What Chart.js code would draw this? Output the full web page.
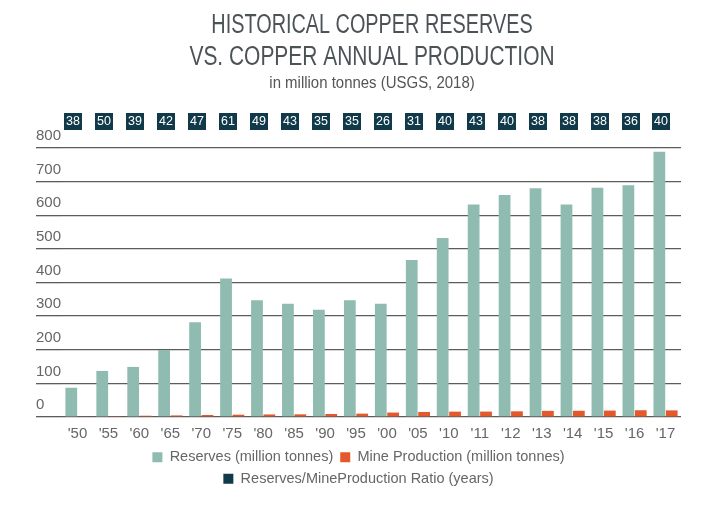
<!DOCTYPE html>
<html>
<head>
<meta charset="utf-8">
<script src="https://cdn.jsdelivr.net/npm/chart.js@4"></script>
<style>
  html, body { margin: 0; padding: 0; background: #fff; }
  #wrap { width: 720px; height: 516px; }
</style>
</head>
<body>
<div id="wrap"><canvas id="copperChart" width="720" height="516"></canvas></div>
<script>
// years and values
var years = ["'50","'55","'60","'65","'70","'75","'80","'85","'90","'95","'00","'05","'10","'11","'12","'13","'14","'15","'16","'17"];
var reserves = [87, 137, 149, 199, 282, 412, 347, 337, 319, 347, 337, 467, 532, 632, 660, 680, 632, 682, 689, 789];
var production = [2.3, 2.7, 3.8, 4.7, 6, 6.8, 7.6, 8, 9, 10, 13.2, 15, 16, 16.1, 16.9, 18.3, 18.5, 19.1, 20.1, 19.7];
var ratio = [38, 50, 39, 42, 47, 61, 49, 43, 35, 35, 26, 31, 40, 43, 40, 38, 38, 38, 36, 40];
var yTicks = [0, 100, 200, 300, 400, 500, 600, 700, 800];

var titleLines = ['HISTORICAL COPPER RESERVES', 'VS. COPPER ANNUAL PRODUCTION'];
var subtitleText = 'in million tonnes (USGS, 2018)';

var green = '#8fbbb0';
var orange = '#e4592b';
var navy = '#10394a';
var grey = '#666';
var sans = '"Liberation Sans", Arial, sans-serif';

// no narrow font here, so the heading is squeezed sideways to look condensed
var condensedTitle = {
    id: 'condensedTitle',
    afterDraw: function(chart){
        var ctx = chart.ctx;
        var cx = 372;
        var squeeze = [0.735, 0.775];
        ctx.save();
        ctx.textAlign = 'center';
        ctx.textBaseline = 'middle';
        ctx.fillStyle = '#4b5357';
        ctx.font = '27px ' + sans;
        titleLines.forEach(function(t, i){
            ctx.save();
            ctx.translate(cx, 26 + i * 31.5);
            ctx.scale(squeeze[i], 1);
            ctx.fillText(t, 0, 0);
            ctx.restore();
        });
        ctx.fillStyle = '#555';
        ctx.font = '17px ' + sans;
        ctx.translate(cx, 83);
        ctx.scale(0.88, 1);
        ctx.fillText(subtitleText, 0, 0);
        ctx.restore();
    }
};

// little navy boxes with the ratio over each year
var ratioBoxes = {
    id: 'ratioBoxes',
    afterDatasetsDraw: function(chart){
        var ctx = chart.ctx;
        var bars = chart.getDatasetMeta(0).data;
        var top = chart.chartArea.top - 35;
        ctx.save();
        ctx.font = '12.5px ' + sans;
        ctx.textAlign = 'center';
        ctx.textBaseline = 'middle';
        chart.data.datasets[2].data.forEach(function(v, i){
            var b = bars[i];
            var left = Math.round(b.x - b.width / 2) - 1;
            ctx.fillStyle = navy;
            ctx.fillRect(left, top, 18, 17);
            ctx.fillStyle = '#fff';
            ctx.fillText(String(v), left + 9, top + 9);
        });
        ctx.restore();
    }
};

var ctx = document.getElementById('copperChart');
var copperChart = new Chart(ctx, {
    type: 'bar',
    data: {
        labels: years,
        datasets: [{
            label: 'Reserves (million tonnes)',
            data: reserves,
            backgroundColor: green,
            borderWidth: 0
        }, {
            label: 'Mine Production (million tonnes)',
            data: production,
            backgroundColor: orange,
            borderWidth: 0
        }, {
            type: 'line',
            label: 'Reserves/MineProduction Ratio (years)',
            data: ratio,
            yAxisID: 'yRatio',
            showLine: false,
            pointRadius: 0,
            backgroundColor: navy,
            borderColor: navy,
            borderWidth: 0
        }]
    },
    options: {
        responsive: false,
        animation: false,
        layout: { padding: { left: 36, right: 39, top: 148, bottom: 20 } },
        datasets: {
            bar: { categoryPercentage: 0.8, barPercentage: 0.95 }
        },
        scales: {
            x: {
                grid: { display: false },
                border: { display: false },
                ticks: {
                    color: grey,
                    font: { family: sans, size: 15 },
                    padding: 0,
                    maxRotation: 0,
                    autoSkip: false
                }
            },
            y: {
                min: 0,
                max: 800,
                afterBuildTicks: function(scale){
                    scale.ticks = yTicks.map(function(v){ return { value: v }; });
                },
                grid: { color: '#5c5c5c', lineWidth: 1.3, tickLength: 26, drawTicks: true },
                border: { display: false },
                ticks: {
                    color: grey,
                    font: { family: sans, size: 15 },
                    crossAlign: 'far',
                    labelOffset: -12,
                    padding: 0
                },
                afterFit: function(scale){ scale.width = 26; }
            },
            yRatio: { display: false, min: 0, max: 100 }
        },
        plugins: {
            title: { display: false },
            legend: {
                position: 'bottom',
                labels: {
                    color: grey,
                    boxWidth: 10,
                    boxHeight: 10,
                    padding: 7,
                    font: { family: sans, size: 14.5 }
                }
            },
            tooltip: { enabled: false }
        }
    },
    plugins: [condensedTitle, ratioBoxes]
});
</script>
</body>
</html>
